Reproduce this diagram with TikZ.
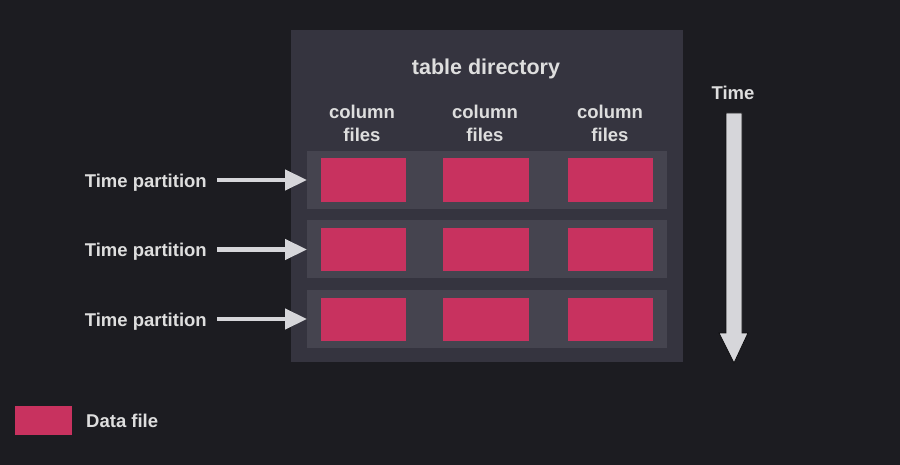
\documentclass[tikz,border=0pt]{standalone}
\usepackage{fontspec}
\setmainfont{Liberation Sans}
\usetikzlibrary{arrows.meta}
\definecolor{bg}{HTML}{1C1C21}
\definecolor{dirbox}{HTML}{35343F}
\definecolor{rowbox}{HTML}{45444F}
\definecolor{datafile}{HTML}{C8325F}
\definecolor{txt}{HTML}{DEDEDE}
\definecolor{arr}{HTML}{D6D6DA}
\definecolor{arrline}{HTML}{0E0E10}
\tikzset{
  lbl/.style={text=txt, font=\fontsize{18.5}{22}\selectfont\bfseries, inner sep=0pt},
  collbl/.style={lbl, align=center, font=\fontsize{18.5}{23}\selectfont\bfseries},
  rowrect/.style={fill=rowbox, draw=none},
  df/.style={fill=datafile, draw=none},
  parrow/.style={draw=arr, line width=4.5pt, -{Triangle[length=22pt,width=20pt]}},
}
\begin{document}
\begin{tikzpicture}[x=1pt,y=-1pt]
\fill[bg] (0,0) rectangle (900,465);
\useasboundingbox (0,0) rectangle (900,465);
% table directory
\fill[dirbox] (291,30) rectangle (683,362);
\node[lbl, font=\fontsize{21.5}{25}\selectfont\bfseries] (title) at (486,68.5) {table directory};
\node[collbl] (c1) at (362,123.5) {column\\files};
\node[collbl] (c2) at (485,123.5) {column\\files};
\node[collbl] (c3) at (610,123.5) {column\\files};
% rows
\foreach \r/\y in {1/151,2/220.5,3/290}{
  \fill[rowrect] (307,\y) rectangle (667,\y+58);
  \path[df] (321,\y+7.5) rectangle (406,\y+51);
  \path[df] (443,\y+7.5) rectangle (529,\y+51);
  \path[df] (568,\y+7.5) rectangle (653,\y+51);
  \coordinate (row\r) at (307,\y+29);
  \node[lbl, anchor=east] (tp\r) at (207,\y+31.5) {Time partition};
  \coordinate (s\r) at (217,\y+29);
}
\foreach \r in {1,2,3}{
  \draw[parrow] (s\r) -- (row\r);
}
% time arrow
\node[lbl] (time) at (733,92.5) {Time};
\coordinate (ta) at (726,113);
\coordinate (tb) at (742,113);
\coordinate (tc) at (742,333);
\coordinate (td) at (748,333);
\coordinate (tip) at (734,363);
\coordinate (te) at (719,333);
\coordinate (tf) at (726,333);
\draw[fill=arr, draw=arrline, line width=0.8pt] (ta) -- (tb) -- (tc) -- (td) -- (tip) -- (te) -- (tf) -- cycle;
% legend
\path[df] (15,406) rectangle (72,435);
\node[lbl, anchor=west] (leg) at (86,421) {Data file};
\end{tikzpicture}
\end{document}
